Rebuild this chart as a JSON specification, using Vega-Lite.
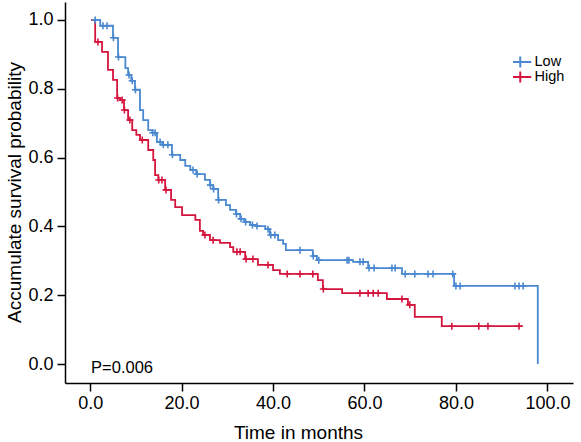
{
  "$schema": "https://vega.github.io/schema/vega-lite/v6.json",
  "width": 508,
  "height": 381,
  "autosize": "none",
  "padding": {"left": 65, "top": 2, "right": 8, "bottom": 59},
  "background": "white",
  "config": {
    "view": {"stroke": null},
    "font": "Liberation Sans",
    "axis": {
      "grid": false,
      "domainColor": "black",
      "domainWidth": 1.5,
      "tickColor": "black",
      "tickWidth": 1.5,
      "tickSize": 8,
      "labelColor": "black",
      "titleColor": "black",
      "labelFont": "Liberation Sans",
      "titleFont": "Liberation Sans",
      "labelFontSize": 18,
      "titleFontSize": 19,
      "titleFontWeight": "normal"
    }
  },
  "datasets": {
    "km": [
      {"g": "Low", "t": 0.6, "s": 1.0, "c": 0},
      {"g": "Low", "t": 1.1, "s": 1.0, "c": 1},
      {"g": "Low", "t": 2.2, "s": 0.983, "c": 0},
      {"g": "Low", "t": 2.8, "s": 0.983, "c": 1},
      {"g": "Low", "t": 3.7, "s": 0.983, "c": 1},
      {"g": "Low", "t": 5.0, "s": 0.948, "c": 0},
      {"g": "Low", "t": 5.1, "s": 0.948, "c": 1},
      {"g": "Low", "t": 6.1, "s": 0.892, "c": 0},
      {"g": "Low", "t": 6.2, "s": 0.892, "c": 1},
      {"g": "Low", "t": 7.7, "s": 0.860, "c": 0},
      {"g": "Low", "t": 8.3, "s": 0.840, "c": 0},
      {"g": "Low", "t": 8.5, "s": 0.840, "c": 1},
      {"g": "Low", "t": 9.0, "s": 0.823, "c": 0},
      {"g": "Low", "t": 9.2, "s": 0.823, "c": 1},
      {"g": "Low", "t": 9.8, "s": 0.797, "c": 0},
      {"g": "Low", "t": 9.9, "s": 0.797, "c": 1},
      {"g": "Low", "t": 10.9, "s": 0.738, "c": 0},
      {"g": "Low", "t": 11.6, "s": 0.709, "c": 0},
      {"g": "Low", "t": 12.7, "s": 0.680, "c": 0},
      {"g": "Low", "t": 13.6, "s": 0.672, "c": 0},
      {"g": "Low", "t": 13.7, "s": 0.672, "c": 1},
      {"g": "Low", "t": 14.2, "s": 0.672, "c": 1},
      {"g": "Low", "t": 14.6, "s": 0.645, "c": 0},
      {"g": "Low", "t": 15.3, "s": 0.645, "c": 1},
      {"g": "Low", "t": 15.8, "s": 0.637, "c": 0},
      {"g": "Low", "t": 16.0, "s": 0.637, "c": 1},
      {"g": "Low", "t": 17.0, "s": 0.637, "c": 1},
      {"g": "Low", "t": 17.9, "s": 0.608, "c": 0},
      {"g": "Low", "t": 18.0, "s": 0.608, "c": 1},
      {"g": "Low", "t": 19.7, "s": 0.593, "c": 0},
      {"g": "Low", "t": 20.8, "s": 0.576, "c": 0},
      {"g": "Low", "t": 21.9, "s": 0.564, "c": 0},
      {"g": "Low", "t": 22.5, "s": 0.564, "c": 1},
      {"g": "Low", "t": 23.2, "s": 0.552, "c": 0},
      {"g": "Low", "t": 23.4, "s": 0.552, "c": 1},
      {"g": "Low", "t": 25.1, "s": 0.535, "c": 0},
      {"g": "Low", "t": 26.2, "s": 0.520, "c": 0},
      {"g": "Low", "t": 26.3, "s": 0.520, "c": 1},
      {"g": "Low", "t": 26.9, "s": 0.509, "c": 0},
      {"g": "Low", "t": 27.0, "s": 0.509, "c": 1},
      {"g": "Low", "t": 28.0, "s": 0.477, "c": 0},
      {"g": "Low", "t": 28.1, "s": 0.477, "c": 1},
      {"g": "Low", "t": 29.7, "s": 0.462, "c": 0},
      {"g": "Low", "t": 30.6, "s": 0.448, "c": 0},
      {"g": "Low", "t": 31.9, "s": 0.436, "c": 0},
      {"g": "Low", "t": 32.0, "s": 0.436, "c": 1},
      {"g": "Low", "t": 32.8, "s": 0.422, "c": 0},
      {"g": "Low", "t": 33.0, "s": 0.422, "c": 1},
      {"g": "Low", "t": 33.7, "s": 0.413, "c": 0},
      {"g": "Low", "t": 34.0, "s": 0.413, "c": 1},
      {"g": "Low", "t": 35.0, "s": 0.404, "c": 0},
      {"g": "Low", "t": 35.5, "s": 0.404, "c": 1},
      {"g": "Low", "t": 36.3, "s": 0.401, "c": 0},
      {"g": "Low", "t": 36.5, "s": 0.401, "c": 1},
      {"g": "Low", "t": 38.3, "s": 0.392, "c": 0},
      {"g": "Low", "t": 38.9, "s": 0.392, "c": 1},
      {"g": "Low", "t": 39.3, "s": 0.375, "c": 0},
      {"g": "Low", "t": 39.5, "s": 0.375, "c": 1},
      {"g": "Low", "t": 40.4, "s": 0.375, "c": 1},
      {"g": "Low", "t": 41.1, "s": 0.360, "c": 0},
      {"g": "Low", "t": 42.2, "s": 0.349, "c": 0},
      {"g": "Low", "t": 42.8, "s": 0.331, "c": 0},
      {"g": "Low", "t": 45.9, "s": 0.331, "c": 1},
      {"g": "Low", "t": 48.7, "s": 0.314, "c": 0},
      {"g": "Low", "t": 48.8, "s": 0.314, "c": 1},
      {"g": "Low", "t": 49.6, "s": 0.302, "c": 0},
      {"g": "Low", "t": 50.0, "s": 0.302, "c": 1},
      {"g": "Low", "t": 56.2, "s": 0.302, "c": 1},
      {"g": "Low", "t": 56.6, "s": 0.302, "c": 1},
      {"g": "Low", "t": 57.5, "s": 0.297, "c": 0},
      {"g": "Low", "t": 59.0, "s": 0.297, "c": 1},
      {"g": "Low", "t": 59.7, "s": 0.297, "c": 1},
      {"g": "Low", "t": 60.8, "s": 0.279, "c": 0},
      {"g": "Low", "t": 61.0, "s": 0.279, "c": 1},
      {"g": "Low", "t": 62.1, "s": 0.279, "c": 1},
      {"g": "Low", "t": 66.0, "s": 0.279, "c": 1},
      {"g": "Low", "t": 66.7, "s": 0.279, "c": 1},
      {"g": "Low", "t": 68.2, "s": 0.262, "c": 0},
      {"g": "Low", "t": 68.9, "s": 0.262, "c": 1},
      {"g": "Low", "t": 71.0, "s": 0.262, "c": 1},
      {"g": "Low", "t": 73.9, "s": 0.262, "c": 1},
      {"g": "Low", "t": 75.0, "s": 0.262, "c": 1},
      {"g": "Low", "t": 79.3, "s": 0.262, "c": 1},
      {"g": "Low", "t": 79.6, "s": 0.227, "c": 0},
      {"g": "Low", "t": 80.0, "s": 0.227, "c": 1},
      {"g": "Low", "t": 80.9, "s": 0.227, "c": 1},
      {"g": "Low", "t": 92.9, "s": 0.227, "c": 1},
      {"g": "Low", "t": 93.8, "s": 0.227, "c": 1},
      {"g": "Low", "t": 94.7, "s": 0.227, "c": 1},
      {"g": "Low", "t": 97.9, "s": 0.0, "c": 0},
      {"g": "High", "t": 0.2, "s": 1.0, "c": 0},
      {"g": "High", "t": 1.1, "s": 0.936, "c": 0},
      {"g": "High", "t": 1.7, "s": 0.936, "c": 1},
      {"g": "High", "t": 2.6, "s": 0.907, "c": 0},
      {"g": "High", "t": 3.9, "s": 0.855, "c": 0},
      {"g": "High", "t": 5.0, "s": 0.826, "c": 0},
      {"g": "High", "t": 5.9, "s": 0.773, "c": 0},
      {"g": "High", "t": 6.0, "s": 0.773, "c": 1},
      {"g": "High", "t": 6.6, "s": 0.767, "c": 0},
      {"g": "High", "t": 7.0, "s": 0.767, "c": 1},
      {"g": "High", "t": 7.4, "s": 0.738, "c": 0},
      {"g": "High", "t": 7.5, "s": 0.738, "c": 1},
      {"g": "High", "t": 8.3, "s": 0.709, "c": 0},
      {"g": "High", "t": 8.7, "s": 0.709, "c": 1},
      {"g": "High", "t": 9.2, "s": 0.680, "c": 0},
      {"g": "High", "t": 10.1, "s": 0.666, "c": 0},
      {"g": "High", "t": 10.9, "s": 0.651, "c": 0},
      {"g": "High", "t": 11.4, "s": 0.651, "c": 1},
      {"g": "High", "t": 12.7, "s": 0.622, "c": 0},
      {"g": "High", "t": 13.8, "s": 0.593, "c": 0},
      {"g": "High", "t": 14.2, "s": 0.549, "c": 0},
      {"g": "High", "t": 14.9, "s": 0.535, "c": 0},
      {"g": "High", "t": 15.0, "s": 0.535, "c": 1},
      {"g": "High", "t": 15.7, "s": 0.535, "c": 1},
      {"g": "High", "t": 16.4, "s": 0.506, "c": 0},
      {"g": "High", "t": 16.6, "s": 0.506, "c": 1},
      {"g": "High", "t": 17.7, "s": 0.477, "c": 0},
      {"g": "High", "t": 18.6, "s": 0.456, "c": 0},
      {"g": "High", "t": 20.1, "s": 0.433, "c": 0},
      {"g": "High", "t": 23.0, "s": 0.419, "c": 0},
      {"g": "High", "t": 24.0, "s": 0.387, "c": 0},
      {"g": "High", "t": 24.7, "s": 0.375, "c": 0},
      {"g": "High", "t": 25.1, "s": 0.375, "c": 1},
      {"g": "High", "t": 26.2, "s": 0.360, "c": 0},
      {"g": "High", "t": 26.9, "s": 0.360, "c": 1},
      {"g": "High", "t": 28.4, "s": 0.352, "c": 0},
      {"g": "High", "t": 30.6, "s": 0.340, "c": 0},
      {"g": "High", "t": 31.3, "s": 0.326, "c": 0},
      {"g": "High", "t": 32.1, "s": 0.326, "c": 1},
      {"g": "High", "t": 32.8, "s": 0.326, "c": 1},
      {"g": "High", "t": 33.9, "s": 0.305, "c": 0},
      {"g": "High", "t": 34.1, "s": 0.305, "c": 1},
      {"g": "High", "t": 35.6, "s": 0.305, "c": 1},
      {"g": "High", "t": 36.7, "s": 0.288, "c": 0},
      {"g": "High", "t": 38.9, "s": 0.288, "c": 1},
      {"g": "High", "t": 40.0, "s": 0.273, "c": 0},
      {"g": "High", "t": 41.5, "s": 0.262, "c": 0},
      {"g": "High", "t": 43.1, "s": 0.262, "c": 1},
      {"g": "High", "t": 45.9, "s": 0.262, "c": 1},
      {"g": "High", "t": 48.7, "s": 0.262, "c": 1},
      {"g": "High", "t": 49.8, "s": 0.244, "c": 0},
      {"g": "High", "t": 50.9, "s": 0.218, "c": 0},
      {"g": "High", "t": 51.0, "s": 0.218, "c": 1},
      {"g": "High", "t": 55.1, "s": 0.206, "c": 0},
      {"g": "High", "t": 59.0, "s": 0.206, "c": 1},
      {"g": "High", "t": 60.8, "s": 0.206, "c": 1},
      {"g": "High", "t": 61.9, "s": 0.206, "c": 1},
      {"g": "High", "t": 63.0, "s": 0.206, "c": 1},
      {"g": "High", "t": 64.9, "s": 0.189, "c": 0},
      {"g": "High", "t": 68.2, "s": 0.189, "c": 1},
      {"g": "High", "t": 69.5, "s": 0.172, "c": 0},
      {"g": "High", "t": 69.9, "s": 0.172, "c": 1},
      {"g": "High", "t": 71.0, "s": 0.137, "c": 0},
      {"g": "High", "t": 76.9, "s": 0.110, "c": 0},
      {"g": "High", "t": 79.1, "s": 0.110, "c": 1},
      {"g": "High", "t": 85.0, "s": 0.110, "c": 1},
      {"g": "High", "t": 87.0, "s": 0.110, "c": 1},
      {"g": "High", "t": 93.8, "s": 0.110, "c": 1},
      {"g": "High", "t": 94.6, "s": 0.110, "c": 0}
    ],
    "ptext": [
      {"label": "P=0.006", "t": 0.2, "s": -0.026}
    ]
  },
  "layer": [
    {
      "data": {"name": "km"},
      "mark": {"type": "line", "interpolate": "step-after", "strokeWidth": 1.8},
      "encoding": {
        "x": {
          "field": "t", "type": "quantitative",
          "scale": {"domain": [-5.5, 105.6], "nice": false, "zero": false},
          "axis": {"values": [0, 20, 40, 60, 80, 100], "format": ".1f", "title": "Time in months", "labelPadding": 3, "titleX": 233, "titleY": 55, "titleBaseline": "alphabetic", "titleAnchor": null, "titleAlign": "center"}
        },
        "y": {
          "field": "s", "type": "quantitative",
          "scale": {"domain": [-0.055, 1.052], "nice": false, "zero": false},
          "axis": {"values": [0, 0.2, 0.4, 0.6, 0.8, 1.0], "format": ".1f", "title": "Accumulate survival probability", "labelPadding": 4, "titleX": -45, "titleY": 190, "titleAngle": -90, "titleBaseline": "alphabetic", "titleAlign": "center"}
        },
        "color": {
          "field": "g", "type": "nominal",
          "scale": {"domain": ["Low", "High"], "range": ["#4A88D0", "#D4163E"]},
          "legend": {
            "title": null,
            "orient": "none",
            "legendX": 448,
            "legendY": 54,
            "padding": 0,
            "symbolType": "M-2,0L2,0M0,-1L0,1",
            "symbolSize": 121,
            "symbolStrokeWidth": 2,
            "symbolFillColor": "transparent",
            "labelFontSize": 14.5,
            "labelFont": "Liberation Sans",
            "labelColor": "black",
            "labelOffset": 7,
            "clipHeight": 12,
            "rowPadding": 0
          }
        }
      }
    },
    {
      "data": {"name": "km"},
      "transform": [{"filter": "datum.c == 1"}],
      "mark": {"type": "point", "shape": "M-1,0L1,0M0,-1L0,1", "filled": false, "size": 49, "strokeWidth": 1.6, "opacity": 1},
      "encoding": {
        "x": {"field": "t", "type": "quantitative"},
        "y": {"field": "s", "type": "quantitative"},
        "color": {"field": "g", "type": "nominal"}
      }
    },
    {
      "data": {"name": "ptext"},
      "mark": {"type": "text", "align": "left", "baseline": "alphabetic", "fontSize": 16.5, "font": "Liberation Sans", "color": "black"},
      "encoding": {
        "x": {"field": "t", "type": "quantitative"},
        "y": {"field": "s", "type": "quantitative"},
        "text": {"field": "label"}
      }
    }
  ]
}
